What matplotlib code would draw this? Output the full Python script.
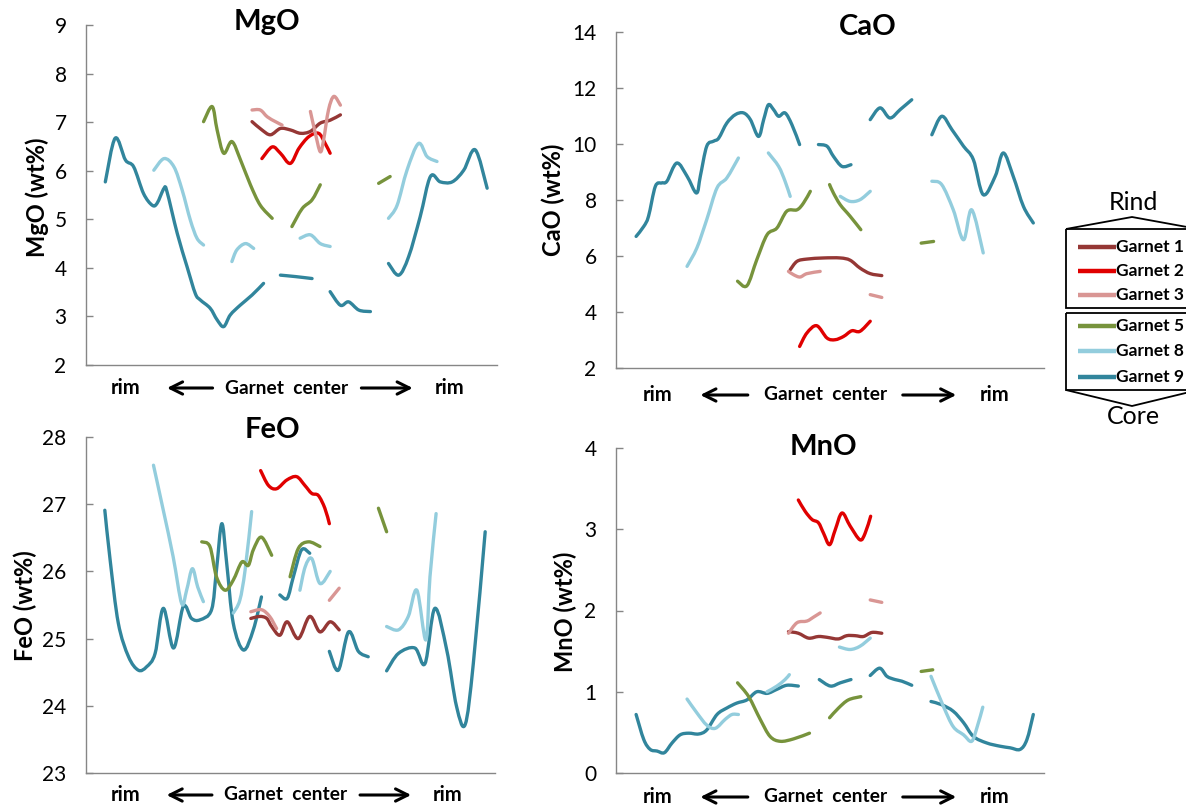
import numpy as np
import matplotlib
matplotlib.use("Agg")
import matplotlib.pyplot as plt
from matplotlib.path import Path
from matplotlib.patches import PathPatch, Polygon, Rectangle

plt.rcParams['font.family'] = ['Lato', 'DejaVu Sans']

garnets = ["Garnet 1", "Garnet 2", "Garnet 3", "Garnet 5", "Garnet 8", "Garnet 9"]
colors = ["#953735", "#E00000", "#D99694", "#77933C", "#93CDDD", "#31859C"]

# profile position (0-100 across the traverse) vs wt%, one list per segment
mgo_g9 = [
    [(4.7, 5.77), (7.1, 6.67), (9.6, 6.22), (11.6, 6.08), (14.0, 5.53), (16.1, 5.29), (17.3, 5.33), (19.0, 5.64),
     (19.7, 5.57), (22.2, 4.71), (24.6, 4.02), (26.6, 3.47), (27.8, 3.34), (30.2, 3.17), (31.9, 2.93), (33.5, 2.79),
     (35.1, 3.03), (37.5, 3.23), (40.4, 3.44), (43.2, 3.68)],
    [(47.3, 3.85), (51.0, 3.82), (55.0, 3.78)],
    [(59.4, 3.51), (61.9, 3.23), (63.9, 3.30), (66.4, 3.13), (69.2, 3.10)],
    [(73.6, 4.09), (76.1, 3.85), (78.5, 4.23), (81.3, 5.05), (83.8, 5.88), (86.2, 5.77), (89.1, 5.77), (91.9, 6.01),
     (94.7, 6.43), (97.6, 5.64)],
]
mgo_g8 = [
    [(16.5, 6.01), (19.0, 6.25), (21.4, 6.08), (23.4, 5.60), (25.4, 4.98), (27.0, 4.61), (28.6, 4.47)],
    [(35.5, 4.13), (36.7, 4.37), (38.8, 4.50), (40.8, 4.40)],
    [(52.1, 4.61), (54.6, 4.68), (57.0, 4.50), (59.4, 4.44)],
    [(73.6, 5.02), (75.7, 5.29), (78.1, 6.01), (80.9, 6.56), (83.0, 6.29), (85.4, 6.19)],
]
mgo_g5 = [
    [(28.6, 7.01), (30.7, 7.32), (31.9, 6.84), (33.5, 6.36), (35.5, 6.60), (37.6, 6.22), (40.0, 5.71), (42.4, 5.29),
     (45.3, 5.02)],
    [(50.1, 4.85), (52.6, 5.22), (55.0, 5.40), (57.0, 5.71)],
    [(71.2, 5.74), (74.0, 5.88)],
]
mgo_g1 = [[(40.4, 7.01), (42.8, 6.84), (44.9, 6.74), (47.3, 6.87), (49.7, 6.84), (52.2, 6.77), (54.6, 6.81),
           (57.0, 6.98), (59.4, 7.04), (61.9, 7.15)]]
mgo_g2 = [[(42.8, 6.25), (45.3, 6.49), (47.3, 6.36), (49.7, 6.15), (51.8, 6.46), (54.2, 6.70), (56.6, 6.77),
           (58.2, 6.56), (59.4, 6.36)]]
mgo_g3 = [[(40.4, 7.25), (42.4, 7.25), (44.1, 7.11), (46.1, 7.01), (47.7, 6.94)],
          [(54.6, 7.22), (55.8, 6.77), (57.0, 6.39), (57.8, 6.63), (59.0, 7.25), (60.3, 7.53), (61.9, 7.35)]]

cao_g9 = [
    [(4.7, 6.70), (6.5, 7.06), (7.6, 7.42), (9.2, 8.49), (10.7, 8.61), (11.9, 8.67), (14.2, 9.32), (16.6, 8.85),
     (18.8, 8.25), (19.7, 8.85), (21.2, 9.92), (22.8, 10.10), (24.0, 10.21), (25.9, 10.75), (27.9, 11.05),
     (29.8, 11.11), (31.4, 10.87), (33.3, 10.27), (34.5, 10.87), (35.6, 11.40), (36.8, 11.23), (38.0, 10.99),
     (39.5, 11.11), (41.1, 10.69), (42.9, 9.98)],
    [(47.3, 9.98), (49.3, 9.92), (50.8, 9.56), (52.8, 9.20), (54.9, 9.26)],
    [(59.4, 10.87), (61.7, 11.29), (64.0, 10.93), (66.4, 11.23), (69.1, 11.58)],
    [(73.8, 10.33), (76.1, 10.99), (78.5, 10.51), (81.2, 9.92), (83.5, 9.44), (85.8, 8.19), (88.6, 8.85),
     (90.5, 9.68), (92.8, 8.85), (95.2, 7.77), (97.5, 7.18)],
]
cao_g8 = [
    [(16.6, 5.63), (18.9, 6.29), (21.2, 7.30), (23.6, 8.43), (25.9, 8.79), (28.6, 9.50)],
    [(35.6, 9.68), (38.0, 9.20), (39.5, 8.67), (40.7, 8.13)],
    [(52.4, 8.13), (54.7, 7.95), (57.0, 8.01), (59.4, 8.31)],
    [(73.8, 8.67), (76.1, 8.55), (78.8, 7.65), (81.2, 6.58), (83.1, 7.65), (85.8, 6.11)],
]
cao_g5 = [
    [(28.4, 5.10), (30.6, 4.94), (32.9, 5.87), (35.3, 6.76), (37.6, 7.00), (39.9, 7.60), (42.3, 7.65), (43.8, 7.89),
     (45.4, 8.31)],
    [(49.9, 8.55), (50.8, 8.25), (52.4, 7.83), (54.7, 7.42), (57.2, 6.94)],
    [(71.3, 6.46), (74.2, 6.52)],
]
cao_g1 = [[(40.7, 5.51), (42.3, 5.81), (44.6, 5.89), (48.5, 5.93), (52.4, 5.93), (54.7, 5.85), (57.0, 5.57),
           (59.4, 5.37), (62.1, 5.30)]]
cao_g2 = [[(42.9, 2.77), (44.6, 3.25), (46.9, 3.51), (49.3, 3.07), (51.2, 3.01), (53.2, 3.13), (55.1, 3.33),
           (57.0, 3.31), (59.4, 3.67)]]
cao_g3 = [[(40.3, 5.45), (41.5, 5.33), (43.0, 5.25), (44.6, 5.37), (47.7, 5.45)], [(59.4, 4.62), (62.1, 4.52)]]

feo_g9 = [
    [(4.6, 26.91), (5.9, 26.17), (7.9, 25.23), (10.4, 24.73), (12.8, 24.53), (14.8, 24.58), (16.9, 24.78),
     (18.9, 25.45), (21.4, 24.86), (23.8, 25.48), (25.8, 25.30), (27.9, 25.28), (30.7, 25.43), (31.9, 26.02),
     (33.2, 26.71), (34.4, 26.12), (36.0, 25.23), (38.5, 24.83), (40.9, 25.13), (42.9, 25.62)],
    [(47.4, 25.65), (49.2, 25.60), (50.7, 25.92), (52.7, 26.32), (54.7, 26.27)],
    [(59.5, 24.81), (61.7, 24.53), (64.2, 25.10), (66.6, 24.81), (69.0, 24.73)],
    [(73.5, 24.52), (76.4, 24.78), (80.4, 24.86), (82.9, 24.63), (85.3, 25.45), (88.2, 24.83), (90.6, 23.99),
     (92.7, 23.72), (94.7, 24.63), (97.6, 26.59)],
]
feo_g8 = [
    [(16.5, 27.58), (18.9, 26.91), (21.3, 26.22), (23.4, 25.52), (24.6, 25.72), (26.0, 26.04), (27.3, 25.77),
     (28.7, 25.55)],
    [(36.0, 25.38), (37.6, 25.57), (38.9, 26.02), (40.5, 26.89)],
    [(52.3, 25.72), (53.6, 26.07), (55.2, 26.19), (57.2, 25.82), (59.7, 26.00)],
    [(73.5, 25.18), (76.4, 25.13), (78.8, 25.33), (80.9, 25.72), (83.1, 24.98), (84.1, 25.92), (85.6, 26.86)],
]
feo_g5 = [
    [(28.3, 26.44), (30.3, 26.37), (31.9, 25.92), (34.0, 25.72), (36.0, 25.87), (38.1, 26.14), (39.7, 26.09),
     (40.9, 26.32), (42.9, 26.51), (45.4, 26.24)],
    [(49.9, 25.92), (51.9, 26.34), (54.4, 26.44), (57.2, 26.37)],
    [(71.5, 26.94), (73.5, 26.59)],
]
feo_g1 = [[(40.3, 25.30), (42.5, 25.33), (44.2, 25.30), (45.4, 25.18), (47.4, 25.05), (49.2, 25.25), (51.9, 25.00),
           (54.7, 25.33), (57.2, 25.10), (59.7, 25.25), (61.9, 25.13)]]
feo_g2 = [[(42.7, 27.50), (44.6, 27.28), (46.6, 27.23), (49.1, 27.36), (51.5, 27.41), (53.5, 27.28), (55.2, 27.16),
           (56.8, 27.13), (58.4, 26.94), (59.5, 26.71)]]
feo_g3 = [[(40.3, 25.40), (42.9, 25.43), (44.9, 25.33), (46.6, 25.15)], [(59.5, 25.57), (61.9, 25.75)]]

mno_g9 = [
    [(4.7, 0.72), (6.5, 0.41), (8.0, 0.29), (9.6, 0.27), (11.3, 0.25), (13.1, 0.37), (15.0, 0.47), (17.0, 0.49),
     (19.3, 0.48), (21.2, 0.53), (23.6, 0.72), (25.9, 0.80), (28.2, 0.86), (30.6, 0.90), (32.9, 1.00), (35.3, 0.98),
     (37.6, 1.03), (39.9, 1.08), (42.6, 1.07)],
    [(47.5, 1.15), (50.1, 1.07), (52.4, 1.11), (54.9, 1.15)],
    [(59.4, 1.20), (61.6, 1.29), (63.3, 1.19), (65.2, 1.15), (66.8, 1.13), (69.1, 1.08)],
    [(73.6, 0.88), (76.1, 0.84), (78.8, 0.76), (81.2, 0.62), (83.5, 0.45), (86.6, 0.37), (89.7, 0.33), (92.1, 0.31),
     (94.4, 0.29), (96.0, 0.41), (97.5, 0.72)],
]
mno_g8 = [
    [(16.6, 0.91), (18.9, 0.74), (21.2, 0.59), (23.2, 0.55), (25.5, 0.66), (27.1, 0.72), (28.6, 0.72)],
    [(35.3, 1.00), (37.6, 1.07), (39.5, 1.15), (40.5, 1.21)],
    [(52.2, 1.55), (54.7, 1.52), (57.0, 1.56), (59.4, 1.66)],
    [(73.6, 1.19), (76.5, 0.82), (78.8, 0.57), (81.2, 0.47), (83.1, 0.39), (84.4, 0.57), (85.7, 0.81)],
]
mno_g5 = [
    [(28.4, 1.11), (31.0, 0.94), (33.7, 0.66), (36.0, 0.45), (38.4, 0.39), (41.5, 0.42), (45.2, 0.49)],
    [(49.9, 0.68), (52.0, 0.80), (54.3, 0.90), (57.2, 0.94)],
    [(71.3, 1.25), (74.0, 1.27)],
]
mno_g1 = [[(40.3, 1.74), (42.6, 1.72), (45.0, 1.66), (47.3, 1.68), (49.3, 1.67), (51.9, 1.65), (53.9, 1.69),
           (55.9, 1.69), (57.8, 1.68), (59.8, 1.73), (62.1, 1.72)]]
mno_g2 = [[(42.6, 3.36), (44.2, 3.22), (45.8, 3.12), (47.3, 3.08), (48.5, 2.95), (49.9, 2.81), (51.2, 2.99),
           (52.8, 3.20), (54.7, 3.04), (57.0, 2.87), (58.2, 2.95), (59.5, 3.16)]]
mno_g3 = [[(40.3, 1.72), (42.3, 1.85), (44.6, 1.87), (46.2, 1.92), (47.7, 1.97)], [(59.4, 2.13), (62.1, 2.10)]]

mgo_ticks = [2, 3, 4, 5, 6, 7, 8, 9]
cao_ticks = [2, 4, 6, 8, 10, 12, 14]
feo_ticks = [23, 24, 25, 26, 27, 28]
mno_ticks = [0, 1, 2, 3, 4]

W, H = 1186, 807

# name, pixel box (left, top, right, bottom), ticks, series, title xy, ylabel xy, xlabel drop
panels = [
    ("MgO", (86, 25, 497, 365), mgo_ticks, [mgo_g1, mgo_g2, mgo_g3, mgo_g5, mgo_g8, mgo_g9], (267, 22), (37, 197), 23),
    ("CaO", (616, 32, 1044, 368), cao_ticks, [cao_g1, cao_g2, cao_g3, cao_g5, cao_g8, cao_g9], (868, 27), (553, 200), 27),
    ("FeO", (86, 437, 495, 773), feo_ticks, [feo_g1, feo_g2, feo_g3, feo_g5, feo_g8, feo_g9], (272, 430), (25, 606), 22),
    ("MnO", (616, 448, 1044, 773), mno_ticks, [mno_g1, mno_g2, mno_g3, mno_g5, mno_g8, mno_g9], (823, 447), (565, 612), 24),
]
draw_order = [5, 4, 3, 0, 1, 2]


def smooth_path(points):
    # Catmull-Rom through the points, drawn as cubic Bezier (like Excel smoothed lines)
    pts = np.asarray(points, dtype=float)
    if len(pts) < 3:
        return Path(pts)
    ext = np.vstack([pts[0], pts, pts[-1]])
    verts, codes = [pts[0]], [Path.MOVETO]
    for i in range(len(pts) - 1):
        p0, p1, p2, p3 = ext[i], ext[i + 1], ext[i + 2], ext[i + 3]
        verts += [p1 + (p2 - p0) / 6.0, p2 - (p3 - p1) / 6.0, p2]
        codes += [Path.CURVE4] * 3
    return Path(verts, codes)


fig = plt.figure(figsize=(W / 100, H / 100), dpi=100)
ov = fig.add_axes([0, 0, 1, 1], zorder=10)
ov.set_xlim(0, W)
ov.set_ylim(H, 0)
ov.axis('off')

for name, (l, t, r, b), ticks, series, title_xy, ylab_xy, drop in panels:
    ax = fig.add_axes([l / W, 1 - b / H, (r - l) / W, (b - t) / H])
    ax.set_xlim(0, 100)
    ax.set_ylim(ticks[0], ticks[-1])
    ax.set_yticks(ticks)
    ax.set_xticks([])
    for s in ('top', 'right'):
        ax.spines[s].set_visible(False)
    for s in ('left', 'bottom'):
        ax.spines[s].set_color('#868686')
        ax.spines[s].set_linewidth(1.0)
    ax.tick_params(axis='y', direction='in', length=5, width=1, color='#868686', pad=14,
                   labelsize=15, labelcolor='black')
    ax.patch.set_alpha(0)

    for k in draw_order:
        for seg in series[k]:
            ax.add_patch(PathPatch(smooth_path(seg), fill=False, edgecolor=colors[k], lw=2.4,
                                   capstyle='round', joinstyle='round'))

    ov.text(title_xy[0], title_xy[1], name, ha='center', va='center', fontsize=21, fontweight='bold')
    ov.text(ylab_xy[0], ylab_xy[1], f"{name} (wt%)", ha='center', va='center', rotation=90,
            fontsize=17, fontweight='bold')

    wd = r - l
    yl = b + drop
    ov.text(l + 0.097 * wd, yl, "rim", ha='center', va='center', fontsize=14.5, fontweight='bold')
    ov.text(l + 0.489 * wd, yl, "Garnet  center", ha='center', va='center', fontsize=13.8, fontweight='bold')
    ov.text(l + 0.885 * wd, yl, "rim", ha='center', va='center', fontsize=14.5, fontweight='bold')
    ov.annotate('', xy=(l + 0.197 * wd, yl), xytext=(l + 0.308 * wd, yl),
                arrowprops=dict(arrowstyle='->', lw=2.2, color='black', mutation_scale=22, shrinkA=0, shrinkB=0))
    ov.annotate('', xy=(l + 0.795 * wd, yl), xytext=(l + 0.670 * wd, yl),
                arrowprops=dict(arrowstyle='->', lw=2.2, color='black', mutation_scale=22, shrinkA=0, shrinkB=0))

# rind/core legend
ov.text(1133, 202, "Rind", ha='center', va='center', fontsize=18)
ov.text(1133, 417, "Core", ha='center', va='center', fontsize=18)
ov.add_patch(Polygon([(1066, 229), (1132, 217), (1198, 229)], closed=False, fill=False, ec='black', lw=1.3))
ov.add_patch(Polygon([(1066, 390), (1132, 406), (1198, 390)], closed=False, fill=False, ec='black', lw=1.3))
ov.add_patch(Rectangle((1066, 229), 140, 79, fill=False, ec='black', lw=1.3))
ov.add_patch(Rectangle((1066, 313), 140, 77, fill=False, ec='black', lw=1.3))
entry_y = [247, 271, 295, 326, 351, 377]
for g, c, y in zip(garnets, colors, entry_y):
    ov.plot([1078, 1116], [y, y], color=c, lw=3.2, solid_capstyle='butt')
    ov.text(1116, y, g, ha='left', va='center', fontsize=12.5, fontweight='bold')

fig.savefig('out.png', dpi=100)
